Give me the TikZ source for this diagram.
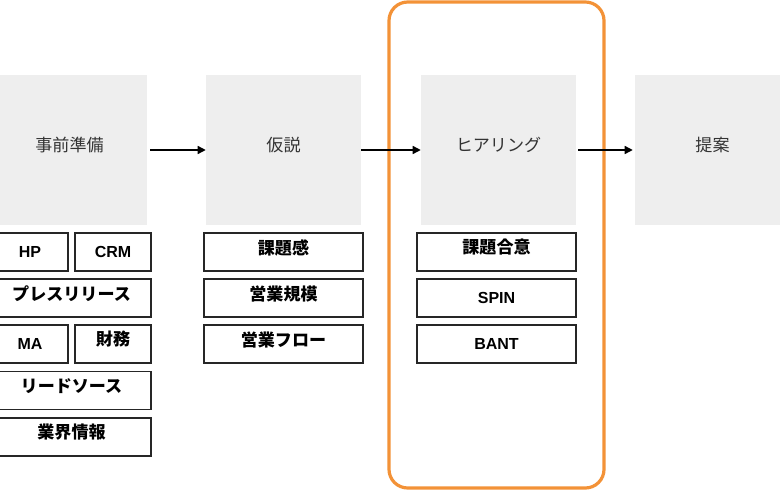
\documentclass[tikz,border=0pt]{standalone}
\usepackage{fontspec}
\setmainfont{Liberation Sans}
\newfontfamily\jpfont{Noto Sans CJK JP}
\usetikzlibrary{arrows.meta}
\tikzset{>={Triangle[length=6pt,width=6pt]}}
\definecolor{stagegray}{HTML}{EEEEEE}
\definecolor{labelgray}{HTML}{333333}
\definecolor{focusorange}{HTML}{F39237}
\newcommand{\up}[1]{\raisebox{8pt}{\jpfont #1}}
\newcommand{\jpitem}[1]{\raisebox{8pt}{\jpfont\fontsize{12.8}{14}\selectfont #1}}
\tikzset{
  stage/.style={fill=stagegray, minimum width=116.25pt, minimum height=112.5pt, inner sep=0pt,
    text=labelgray, font=\jpfont\fontsize{12.8}{14}\selectfont},
  item/.style={draw=black!85, line width=1.1pt, minimum width=119.25pt, minimum height=28.5pt,
    inner sep=0pt, font=\bfseries\fontsize{12}{14}\selectfont},
  halfitem/.style={item, minimum width=57pt},
}

\begin{document}
\begin{tikzpicture}[x=0.75pt, y=-0.75pt]
      \useasboundingbox (0, 0) rectangle (780, 492);
      % frame
      \draw[focusorange, line width=2.4pt, rounded corners=14pt] (389, 2) rectangle (604, 488);
      % stages
      \node[stage] (prep) at (69.5, 150) {\up{事前準備}};
      \node[stage] (hypo) at (283.5, 150) {\up{仮説}};
      \node[stage] (hear) at (498.5, 150) {\up{ヒアリング}};
      \node[stage] (prop) at (712.5, 150) {\up{提案}};
      % items
      \node[halfitem] (hp) at (30, 252) {HP};
      \node[halfitem] (crm) at (113, 252) {CRM};
      \node[item] (press) at (71.5, 298) {\jpitem{プレスリリース}};
      \node[halfitem] (ma) at (30, 344) {MA};
      \node[halfitem] (fin) at (113, 344) {\jpitem{財務}};
      \node[item] (lead) at (71.5, 390.5) {\jpitem{リードソース}};
      \node[item] (ind) at (71.5, 437) {\jpitem{業界情報}};
      \node[item] (issue) at (283.5, 252) {\jpitem{課題感}};
      \node[item] (scale) at (283.5, 298) {\jpitem{営業規模}};
      \node[item] (flow) at (283.5, 344) {\jpitem{営業フロー}};
      \node[item] (agree) at (496.5, 252) {\jpitem{課題合意}};
      \node[item] (spin) at (496.5, 298) {SPIN};
      \node[item] (bant) at (496.5, 344) {BANT};
      % arrows
      \draw[->, line width=1pt, shorten <=2.2pt] (prep) -- (hypo);
      \draw[->, line width=1pt] (hypo) -- (hear);
      \draw[->, line width=1pt, shorten <=1.5pt, shorten >=1.5pt] (hear) -- (prop);
    \end{tikzpicture}
\end{document}
